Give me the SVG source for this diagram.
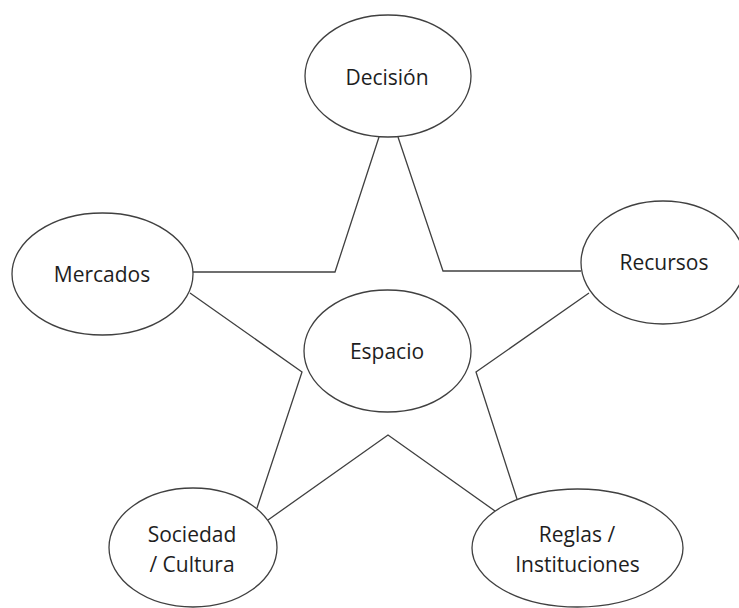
<svg xmlns="http://www.w3.org/2000/svg" width="739" height="608" viewBox="0 0 739 608">
  <style>
    .node ellipse { fill: #ffffff; stroke: #404040; stroke-width: 1.3; }
    .node text { font-family: "Open Sans", "Liberation Sans", sans-serif; font-size: 21px; fill: #1e1e1e; text-anchor: middle; }
    #connectors polyline { fill: none; stroke: #404040; stroke-width: 1.3; stroke-linejoin: miter; }
  </style>
  <rect width="739" height="608" fill="#ffffff"/>

  <!-- star-shaped links between the outer nodes -->
  <g id="connectors">
    <polyline points="379,137 335,272 193,272"/>
    <polyline points="398,137 443,271 581,271"/>
    <polyline points="190,293 302,372 257,508"/>
    <polyline points="589,293 476,372 517,499"/>
    <polyline points="268,520 388,435 495,511"/>
  </g>

  <g id="decision" class="node">
    <ellipse cx="388" cy="76" rx="83" ry="61"/>
    <text x="387" y="85">Decisión</text>
  </g>

  <g id="mercados" class="node">
    <ellipse cx="102.5" cy="274" rx="90.5" ry="61"/>
    <text x="102" y="282">Mercados</text>
  </g>

  <g id="recursos" class="node">
    <ellipse cx="663" cy="262.5" rx="82" ry="61.5"/>
    <text x="664" y="270">Recursos</text>
  </g>

  <g id="espacio" class="node">
    <ellipse cx="387.5" cy="351" rx="83.5" ry="61"/>
    <text x="387" y="359">Espacio</text>
  </g>

  <g id="sociedad" class="node">
    <ellipse cx="193" cy="547.5" rx="84" ry="59.5"/>
    <text x="192" y="542">Sociedad</text>
    <text x="192" y="572">/ Cultura</text>
  </g>

  <g id="reglas" class="node">
    <ellipse cx="577.5" cy="548" rx="105.5" ry="59"/>
    <text x="577" y="542">Reglas /</text>
    <text x="577.5" y="572">Instituciones</text>
  </g>
</svg>
